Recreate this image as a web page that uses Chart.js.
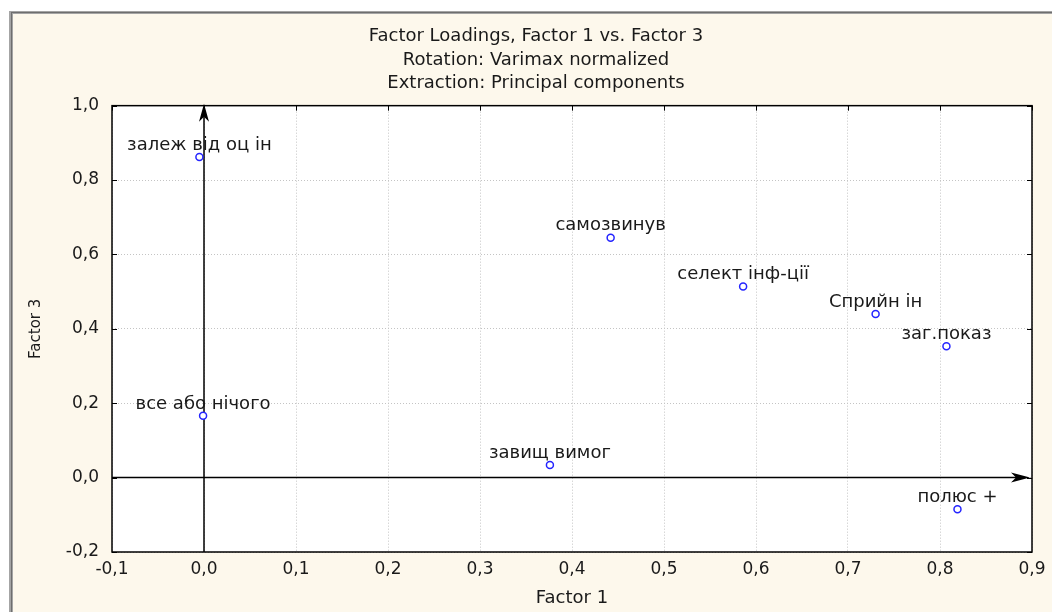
<!DOCTYPE html>
<html>
<head>
<meta charset="utf-8">
<script src="https://cdn.jsdelivr.net/npm/chart.js@4.4.0/dist/chart.umd.min.js"></script>
<style>
  html, body { margin: 0; padding: 0; background: #ffffff; }
  canvas { display: block; }
</style>
</head>
<body>
<canvas id="loadingsChart" width="1052" height="612"></canvas>
<script>
// Variable names as printed next to each point
const varNames = ['залеж від оц ін', 'самозвинув', 'селект інф-ції', 'Сприйн ін', 'заг.показ', 'все або нічого', 'завищ вимог', 'полюс +'];
// Loadings: Factor 1 (x) and Factor 3 (y)
const factor1 = [-0.005, 0.442, 0.586, 0.730, 0.807, -0.001, 0.376, 0.819];
const factor3 = [0.862, 0.645, 0.514, 0.440, 0.353, 0.166, 0.034, -0.085];

// Tick labels (decimal comma, as in the original)
const xTickLabels = ['-0,1', '0,0', '0,1', '0,2', '0,3', '0,4', '0,5', '0,6', '0,7', '0,8', '0,9'];
const yTickLabels = ['-0,2', '0,0', '0,2', '0,4', '0,6', '0,8', '1,0'];

const titleLines = ['Factor Loadings, Factor 1 vs. Factor 3', 'Rotation: Varimax normalized', 'Extraction: Principal components'];

const FONT = 'DejaVu Sans';
const TEXT = '#1a1a1a';

// Cream window background, grey frame edge and white plot area
const backgroundPlugin = {
    id: 'background',
    beforeDraw(chart) {
        const { ctx, chartArea, width, height } = chart;
        ctx.save();
        ctx.fillStyle = '#ffffff';
        ctx.fillRect(0, 0, width, height);
        ctx.fillStyle = '#fdf8ec';
        ctx.fillRect(9, 11, width - 9, height - 11);
        ctx.fillStyle = '#a4a4a4';
        ctx.fillRect(9, 11, 4, height - 11);
        ctx.fillRect(9, 11, width - 9, 3);
        ctx.fillStyle = '#6e6e6e';
        ctx.fillRect(11, 12, 1, height - 12);
        ctx.fillRect(11, 12, width - 11, 1);
        ctx.fillStyle = '#ffffff';
        ctx.fillRect(chartArea.left, chartArea.top, chartArea.right - chartArea.left, chartArea.bottom - chartArea.top);
        ctx.restore();
    }
};

// Plot border, inward tick marks and the two axis arrows through zero
const axesPlugin = {
    id: 'axesArrows',
    beforeDatasetsDraw(chart) {
        const { ctx, chartArea, scales } = chart;
        const { left, right, top, bottom } = chartArea;
        ctx.save();
        ctx.strokeStyle = '#000000';
        ctx.fillStyle = '#000000';

        // inward ticks
        ctx.lineWidth = 1;
        ctx.beginPath();
        scales.y.ticks.forEach(t => {
            const py = Math.round(scales.y.getPixelForValue(t.value)) + 0.5;
            ctx.moveTo(left, py); ctx.lineTo(left + 5, py);
            ctx.moveTo(right, py); ctx.lineTo(right - 5, py);
        });
        scales.x.ticks.forEach(t => {
            const px = Math.round(scales.x.getPixelForValue(t.value)) + 0.5;
            ctx.moveTo(px, top); ctx.lineTo(px, top + 5);
        });
        ctx.stroke();

        // border
        ctx.lineWidth = 1.5;
        ctx.strokeRect(left, top, right - left, bottom - top);

        // horizontal arrow at y = 0
        const y0 = scales.y.getPixelForValue(0);
        const tipX = right - 2;
        ctx.lineWidth = 1.5;
        ctx.beginPath();
        ctx.moveTo(left, y0);
        ctx.lineTo(tipX - 14, y0);
        ctx.stroke();
        ctx.beginPath();
        ctx.moveTo(tipX, y0);
        ctx.lineTo(tipX - 19, y0 - 5);
        ctx.lineTo(tipX - 14, y0);
        ctx.lineTo(tipX - 19, y0 + 5);
        ctx.closePath();
        ctx.fill();

        // vertical arrow at x = 0
        const x0 = scales.x.getPixelForValue(0);
        const tipY = top - 2;
        ctx.beginPath();
        ctx.moveTo(x0, bottom);
        ctx.lineTo(x0, tipY + 13);
        ctx.stroke();
        ctx.beginPath();
        ctx.moveTo(x0, tipY);
        ctx.lineTo(x0 - 5, tipY + 18);
        ctx.lineTo(x0, tipY + 13);
        ctx.lineTo(x0 + 5, tipY + 18);
        ctx.closePath();
        ctx.fill();
        ctx.restore();
    }
};

// Variable name above each point
const pointLabelsPlugin = {
    id: 'pointLabels',
    afterDatasetsDraw(chart) {
        const { ctx } = chart;
        const meta = chart.getDatasetMeta(0);
        ctx.save();
        ctx.font = '18px "' + FONT + '"';
        ctx.fillStyle = TEXT;
        ctx.textAlign = 'center';
        ctx.textBaseline = 'middle';
        meta.data.forEach((pt, i) => {
            ctx.fillText(varNames[i], pt.x, pt.y - 12);
        });
        ctx.restore();
    }
};

const points = factor1.map((x, i) => ({ x: x, y: factor3[i] }));

const ctx = document.getElementById('loadingsChart').getContext('2d');
new Chart(ctx, {
    type: 'scatter',
    data: {
        datasets: [{
            label: 'Loadings',
            data: points,
            pointStyle: 'circle',
            pointRadius: 3.5,
            pointBorderWidth: 1.5,
            borderColor: '#2424ff',
            backgroundColor: '#ffffff',
            showLine: false
        }]
    },
    options: {
        responsive: false,
        animation: false,
        layout: { padding: { left: 20, right: 0, top: 0, bottom: 0 } },
        plugins: {
            legend: { display: false },
            tooltip: { enabled: false },
            title: {
                display: true,
                text: titleLines,
                color: TEXT,
                font: { family: FONT, size: 18, weight: 'normal', lineHeight: 1.29 },
                padding: { top: 25, bottom: 11 }
            }
        },
        scales: {
            x: {
                type: 'linear',
                min: -0.1,
                max: 0.9,
                afterFit(scale) {
                    scale.height = 60;
                    scale.paddingRight = 20;
                },
                ticks: {
                    stepSize: 0.1,
                    padding: 7,
                    color: TEXT,
                    font: { family: FONT, size: 17 },
                    callback: (v, i) => xTickLabels[i]
                },
                grid: { color: '#c4c4c4', lineWidth: 1, drawTicks: false },
                border: { display: false, dash: [1, 2] },
                title: {
                    display: true,
                    text: 'Factor 1',
                    color: TEXT,
                    font: { family: FONT, size: 18 },
                    padding: { top: 0, bottom: 3 }
                }
            },
            y: {
                type: 'linear',
                min: -0.2,
                max: 1.0,
                afterFit(scale) {
                    scale.width = 92;
                },
                ticks: {
                    stepSize: 0.2,
                    padding: 13,
                    color: TEXT,
                    font: { family: FONT, size: 17 },
                    callback: (v, i) => yTickLabels[i]
                },
                grid: { color: '#c4c4c4', lineWidth: 1, drawTicks: false },
                border: { display: false, dash: [1, 2] },
                title: {
                    display: true,
                    text: 'Factor 3',
                    color: TEXT,
                    font: { family: FONT, size: 15 },
                    padding: { top: 7, bottom: 0 }
                }
            }
        }
    },
    plugins: [backgroundPlugin, axesPlugin, pointLabelsPlugin]
});
</script>
</body>
</html>
